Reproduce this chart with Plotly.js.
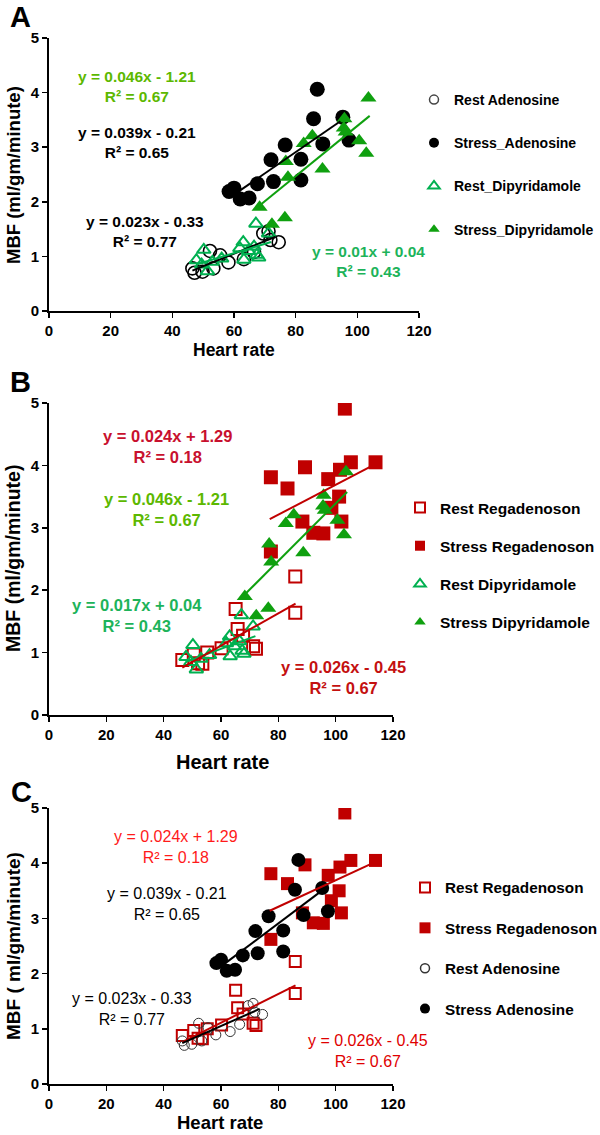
<!DOCTYPE html>
<html><head><meta charset="utf-8">
<script src="https://cdn.plot.ly/plotly-3.0.1.min.js"></script>
<style>html,body{margin:0;padding:0;background:#fff}#chart{width:600px;height:1135px}</style>
</head><body><div id="chart"></div>
<script>
// ---- data (heart rate vs MBF) ----
const restAdenHR  = [46.5, 47.2, 49.8, 52.2, 53.3, 55.5, 58.2, 63.2, 66.5, 69.5, 71.2, 71.8, 74.5];
const restAdenMBF = [0.78, 0.70, 0.72, 1.10, 0.78, 1.02, 0.89, 0.95, 1.08, 1.42, 1.46, 1.30, 1.26];
const stressAdenHR  = [58.4, 60.0, 62.0, 64.9, 67.6, 72.0, 72.8, 76.6, 81.7, 81.7, 85.8, 87.0, 88.8, 95.3, 97.3];
const stressAdenMBF = [2.19, 2.25, 2.05, 2.07, 2.33, 2.77, 2.37, 3.04, 2.78, 2.40, 3.52, 4.06, 3.06, 3.55, 3.13];
const restDipHR  = [47.8, 49.5, 50.2, 51.4, 53.0, 56.0, 61.9, 63.0, 63.2, 64.7, 66.5, 67.1, 67.4, 68.0, 71.2];
const restDipMBF = [0.93, 0.85, 1.12, 0.73, 0.90, 0.96, 1.15, 1.26, 0.94, 1.10, 1.18, 1.60, 1.03, 0.98, 1.42];
const stressDipHR  = [68.3, 72.3, 76.5, 76.8, 77.5, 82.6, 85.4, 88.7, 95.8, 95.6, 96.2, 100.6, 102.9, 103.6];
const stressDipMBF = [1.90, 1.59, 1.71, 2.74, 2.45, 3.07, 3.21, 2.60, 3.52, 3.35, 3.28, 3.12, 2.89, 3.90];
const restRegHR  = [46.5, 50.5, 52.0, 53.5, 55.2, 60.2, 65.1, 65.8, 67.7, 71.2, 72.2, 85.9, 85.9];
const restRegMBF = [0.88, 0.97, 0.83, 0.82, 1.00, 1.07, 1.70, 1.38, 1.27, 1.10, 1.06, 2.22, 1.64];
const stressRegHR  = [77.4, 77.4, 83.2, 88.4, 89.3, 92.2, 95.7, 97.4, 98.5, 101.2, 101.5, 102.0, 103.2, 105.3, 113.9];
const stressRegMBF = [3.81, 2.62, 3.63, 3.10, 3.97, 2.92, 2.91, 3.78, 3.32, 3.50, 3.93, 3.10, 4.91, 4.05, 4.05];

// linear fits: [slope, intercept] and fitted HR range
const restAdenFit = [0.023, -0.33],  restAdenRange = [46.5, 73.5];
const stressAdenFit = [0.039, -0.21], stressAdenRange = [62, 94.5];
const restDipFit = [0.017, 0.04],    restDipRange = [48, 72];
const stressDipFit = [0.046, -1.21], stressDipRange = [68, 104];
const restRegFit = [0.026, -0.45],   restRegRange = [46.5, 86];
const stressRegFit = [0.024, 1.29],  stressRegRange = [77, 113.5];

const xTicks = [0, 20, 40, 60, 80, 100, 120];
const yTicks = [0, 1, 2, 3, 4, 5];

// ---- styling ----
const FONT = 'Liberation Sans, Arial, sans-serif';
const BLACK = '#000000', DGREEN = '#0fa00f', TEAL = '#00b050', RED = '#c00000';
const W = 600, H = 1135;
const px = v => v / W, py = v => 1 - v / H;

const traces = [];
function scatter(ax, x, y, marker) {
  traces.push({type:'scatter', mode:'markers', x:x, y:y, xaxis:'x'+ax, yaxis:'y'+ax,
    marker:marker, showlegend:false, hoverinfo:'x+y'});
}
function fitLine(ax, fit, range, color) {
  traces.push({type:'scatter', mode:'lines', x:range, y:range.map(v => fit[0]*v + fit[1]),
    xaxis:'x'+ax, yaxis:'y'+ax, line:{color:color, width:2}, showlegend:false, hoverinfo:'skip'});
}
function legendItem(leg, name, marker) {
  traces.push({type:'scatter', mode:'markers', x:[null], y:[null], name:name, legend:leg,
    legendgroup:leg+name, marker:marker, showlegend:true, xaxis:'x', yaxis:'y'});
}

const mRestAden = {symbol:'circle-open', size:13, color:BLACK, line:{width:1.6, color:BLACK}};
const mRestAdenC = {symbol:'circle-open', size:10, color:'#333', line:{width:1, color:'#333'}};
const mStressAden = {symbol:'circle', size:15, color:BLACK};
const mRestDip = {symbol:'triangle-up-open', size:12, color:TEAL, line:{width:2, color:TEAL}};
const mStressDip = {symbol:'triangle-up', size:14, color:DGREEN};
const mRestReg = {symbol:'square-open', size:12, color:RED, line:{width:2, color:RED}};
const mStressReg = {symbol:'square', size:14, color:RED};

// Panel A
scatter('', restAdenHR, restAdenMBF, mRestAden);
scatter('', stressAdenHR, stressAdenMBF, mStressAden);
scatter('', restDipHR, restDipMBF, mRestDip);
scatter('', stressDipHR, stressDipMBF, mStressDip);
fitLine('', restAdenFit, restAdenRange, BLACK);
fitLine('', stressAdenFit, stressAdenRange, BLACK);
fitLine('', restDipFit, restDipRange, TEAL);
fitLine('', stressDipFit, stressDipRange, DGREEN);
// Panel B
scatter('2', restRegHR, restRegMBF, mRestReg);
scatter('2', stressRegHR, stressRegMBF, mStressReg);
scatter('2', restDipHR, restDipMBF, mRestDip);
scatter('2', stressDipHR, stressDipMBF, mStressDip);
fitLine('2', restDipFit, restDipRange, TEAL);
fitLine('2', stressDipFit, stressDipRange, DGREEN);
fitLine('2', restRegFit, restRegRange, RED);
fitLine('2', stressRegFit, stressRegRange, RED);
// Panel C
scatter('3', restRegHR, restRegMBF, {symbol:'square-open', size:11, color:RED, line:{width:2, color:RED}});
scatter('3', stressRegHR, stressRegMBF, {symbol:'square', size:13, color:RED});
scatter('3', restAdenHR, restAdenMBF, mRestAdenC);
scatter('3', stressAdenHR, stressAdenMBF, {symbol:'circle', size:14, color:BLACK});
fitLine('3', restRegFit, restRegRange, RED);
fitLine('3', stressRegFit, stressRegRange, RED);
fitLine('3', restAdenFit, restAdenRange, BLACK);
fitLine('3', stressAdenFit, stressAdenRange, BLACK);

// legends (marker samples)
legendItem('legend', 'Rest Adenosine', {symbol:'circle-open', size:9, color:'#444', line:{width:1.5, color:'#444'}});
legendItem('legend', 'Stress_Adenosine', {symbol:'circle', size:10, color:BLACK});
legendItem('legend', 'Rest_Dipyridamole', {symbol:'triangle-up-open', size:10, color:TEAL, line:{width:2, color:TEAL}});
legendItem('legend', 'Stress_Dipyridamole', {symbol:'triangle-up', size:10, color:DGREEN});
legendItem('legend2', 'Rest Regadenoson', {symbol:'square-open', size:10, color:RED, line:{width:2, color:RED}});
legendItem('legend2', 'Stress Regadenoson', {symbol:'square', size:10, color:RED});
legendItem('legend2', 'Rest Dipyridamole', {symbol:'triangle-up-open', size:10, color:TEAL, line:{width:2, color:TEAL}});
legendItem('legend2', 'Stress Dipyridamole', {symbol:'triangle-up', size:10, color:DGREEN});
legendItem('legend3', 'Rest Regadenoson', {symbol:'square-open', size:10, color:RED, line:{width:2, color:RED}});
legendItem('legend3', 'Stress Regadenoson', {symbol:'square', size:11, color:RED});
legendItem('legend3', 'Rest Adenosine', {symbol:'circle-open', size:9, color:'#333', line:{width:1.5, color:'#333'}});
legendItem('legend3', 'Stress Adenosine', {symbol:'circle', size:10, color:BLACK});

function xax(domain, anchor) {
  return {domain:domain, anchor:anchor, range:[0,120], tickvals:xTicks, ticktext:xTicks.map(String),
    showgrid:false, zeroline:false, showline:true, linecolor:BLACK, linewidth:2,
    ticks:'outside', ticklen:5, tickwidth:1.5, tickcolor:BLACK, automargin:false,
    tickfont:{family:FONT, size:15, color:BLACK, weight:'bold'}, fixedrange:true};
}
function yax(domain, anchor) {
  return {domain:domain, anchor:anchor, range:[0,5], tickvals:yTicks, ticktext:yTicks.map(String),
    showgrid:false, zeroline:false, showline:true, linecolor:BLACK, linewidth:2,
    ticks:'outside', ticklen:5, tickwidth:1.5, tickcolor:BLACK, automargin:false,
    tickfont:{family:FONT, size:15, color:BLACK, weight:'bold'}, fixedrange:true};
}

function note(x, y, text, size, color, weight, extra) {
  return Object.assign({xref:'paper', yref:'paper', x:px(x), y:py(y), xanchor:'center', yanchor:'middle',
    showarrow:false, text:text, align:'center',
    font:{family:FONT, size:size, color:color, weight:weight}}, extra || {});
}

const annotations = [
  note(20, 17, 'A', 29, BLACK, 'bold'),
  note(20, 382, 'B', 29, BLACK, 'bold'),
  note(21, 792, 'C', 29, BLACK, 'bold'),
  // axis titles
  note(14, 175, 'MBF (ml/gm/minute)', 18.5, BLACK, 'bold', {textangle:-90}),
  note(13, 559, 'MBF (ml/gm/minute)', 19.5, BLACK, 'bold', {textangle:-90}),
  note(13, 946, 'MBF ( ml/gm/minute)', 19, BLACK, 'bold', {textangle:-90}),
  note(234, 350, 'Heart rate', 17.5, BLACK, 'bold'),
  note(222, 762, 'Heart rate', 20, BLACK, 'bold'),
  note(220, 1122, 'Heart rate', 18.5, BLACK, 'bold'),
  // panel A equations
  note(137, 86.5, 'y = 0.046x - 1.21<br>R² = 0.67', 15.5, '#5cb800', 'bold'),
  note(137, 142, 'y = 0.039x - 0.21<br>R² = 0.65', 15.5, BLACK, 'bold'),
  note(145, 231, 'y = 0.023x - 0.33<br>R² = 0.77', 15.5, BLACK, 'bold'),
  note(368, 261, 'y = 0.01x + 0.04<br>R² = 0.43', 15.5, '#1db35a', 'bold'),
  // panel B equations
  note(167, 446.5, 'y = 0.024x + 1.29<br>R² = 0.18', 16.5, '#c8102e', 'bold'),
  note(166, 509.5, 'y = 0.046x - 1.21<br>R² = 0.67', 16.5, '#5cb800', 'bold'),
  note(137, 615.5, 'y = 0.017x + 0.04<br>R² = 0.43', 16.5, '#1db35a', 'bold'),
  note(343, 677.5, 'y = 0.026x - 0.45<br>R² = 0.67', 16.5, '#c41010', 'bold'),
  // panel C equations
  note(176, 847, 'y = 0.024x + 1.29<br>R² = 0.18', 16, '#ff1a1a', 'normal'),
  note(167, 904, 'y = 0.039x - 0.21<br>R² = 0.65', 16, BLACK, 'normal'),
  note(132, 1009, 'y = 0.023x - 0.33<br>R² = 0.77', 16, BLACK, 'normal'),
  note(368, 1051, 'y = 0.026x - 0.45<br>R² = 0.67', 16, '#e00000', 'normal')
];

function leg(x, y, size, gap) {
  return {x:px(x), y:py(y), xanchor:'left', yanchor:'top', traceorder:'grouped', tracegroupgap:gap,
    bgcolor:'rgba(0,0,0,0)', itemwidth:30, itemclick:false, itemdoubleclick:false,
    font:{family:FONT, size:size, color:BLACK, weight:'bold'}};
}

const layout = {
  width:W, height:H, margin:{l:0, r:0, t:0, b:0, autoexpand:false}, paper_bgcolor:'#fff', plot_bgcolor:'rgba(0,0,0,0)',
  font:{family:FONT, color:BLACK},
  xaxis: xax([49/W, 419/W], 'y'),
  yaxis: yax([py(311), py(38)], 'x'),
  xaxis2: xax([49/W, 393/W], 'y2'),
  yaxis2: yax([py(715), py(403)], 'x2'),
  xaxis3: xax([49/W, 393/W], 'y3'),
  yaxis3: yax([py(1084), py(808)], 'x3'),
  legend: leg(414, 84, 14, 22),
  legend2: leg(400, 491, 15.5, 15),
  legend3: leg(405, 871, 15.3, 17.5),
  annotations: annotations,
  showlegend: true
};

Plotly.newPlot('chart', traces, layout, {displayModeBar:false, staticPlot:true});
</script></body></html>
